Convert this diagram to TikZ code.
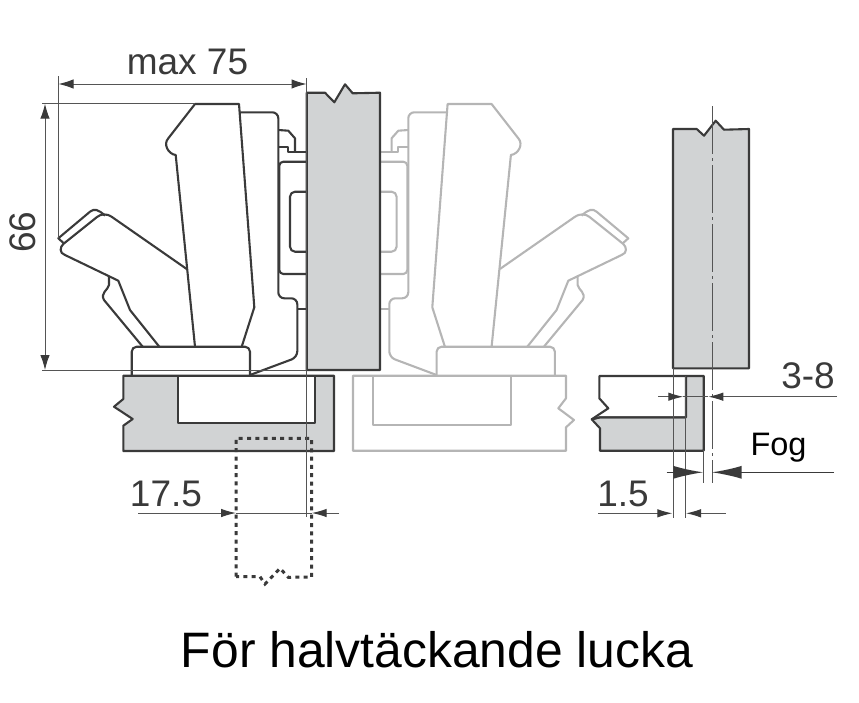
\documentclass[tikz,border=0pt]{standalone}
\usepackage{fontspec}
\setmainfont{Liberation Sans}
\usetikzlibrary{arrows.meta}
\definecolor{panelgray}{HTML}{D1D3D4}
\definecolor{darkline}{HTML}{3A3A3A}
\definecolor{lightline}{HTML}{B5B5B5}
\definecolor{dimline}{HTML}{555555}
\tikzset{
    darkpart/.style={draw=darkline,line width=2.1pt,line join=round},
    lightpart/.style={draw=lightline,line width=2.1pt,line join=round},
    thinline/.style={draw=dimline,line width=1pt},
    dimtext/.style={text=darkline,inner sep=0pt,font=\fontsize{37}{37}\selectfont},
    bothtip/.style={{Latex[length=15pt,width=9.5pt,color=darkline]}-{Latex[length=15pt,width=9.5pt,color=darkline]}},
    smalltip/.style={-{Latex[length=15pt,width=8.5pt,color=darkline]}},
    fogtip/.style={-{Latex[length=30pt,width=13pt,color=darkline]}}
}
% one hinge, drawn with the door on its right
\newcommand{\hingeparts}[1]{
    % arm
    \draw[#1] (195,346.7) -- (175.7,155) .. controls (168,154) and (163,144) .. (168.3,138.3)
        -- (195,104) -- (239,104) -- (254.3,307.3) -- (241.7,346.7);
    % wing
    \draw[#1] (186.7,269) -- (112,217) .. controls (106,213) and (101,214) .. (97,217)
        -- (63.3,244) .. controls (60,247) and (59,253) .. (65,255)
        -- (118.3,280.7) -- (130,310) -- (159.3,346.7);
    \draw[#1] (109,276.3) -- (109,285) .. controls (108,290) and (100,293) .. (104,300) -- (142.7,346.7);
    \draw[#1] (63.5,243) -- (58.3,238.3) -- (90,211.7) .. controls (94,208.5) and (98,209) .. (105,215.7);
    % cup
    \draw[#1,rounded corners=5pt] (131.7,375) -- (131.7,346.7) -- (250,346.7) -- (250,375);
    % mounting plate
    \draw[#1,rounded corners=6pt] (239,112.3) -- (278.3,112.3) -- (278.3,298.3)
        -- (297.3,298.3) -- (297.3,357.3) [sharp corners] -- (250,375);
    \draw[#1] (278.3,130) -- (288.3,130.7) -- (295,138.3) -- (295,151.7);
    \draw[#1] (278.3,147.3) -- (288.3,147.3) -- (288.3,151.7) -- (306.7,151.7);
    \draw[#1,rounded corners=4pt] (306.7,161.7) -- (279.3,161.7) -- (279.3,274) -- (306.7,274);
    \draw[#1,rounded corners=5pt] (306.7,191.7) -- (290,191.7) -- (290,251.7) -- (306.7,251.7);
    \draw[#1] (297.3,309.3) -- (306.7,309.3);
}

\begin{document}
\begin{tikzpicture}[x=1pt,y=-1pt]
    \useasboundingbox (0,0) rectangle (859,702);

    % Light lower panel
    \draw[lightpart] (566,398.3) -- (566,375.7) -- (353,375.7) -- (353,450.7) -- (566,450.7) -- (566,427.3)
        -- (574,420) -- (558.3,408.3) -- cycle;
    \draw[lightpart] (373.3,375.7) -- (373.3,425) -- (511,425) -- (511,375.7);

    % Light hinge
    \begin{scope}[xshift=686.6pt,xscale=-1]
        \hingeparts{lightpart}
    \end{scope}

    % Dark lower panel
    \draw[darkpart,fill=panelgray] (123.3,375.7) -- (334,375.7) -- (334,451) -- (123.3,451) -- (123.3,425.7)
        -- (132.7,419) -- (114,406.7) -- (123.3,399) -- cycle;
    \draw[darkpart,fill=white] (177.7,375.7) -- (177.7,423.3) -- (315,423.3) -- (315,375.7) -- cycle;

    % Dark hinge
    \hingeparts{darkpart}

    % Door
    \draw[darkpart,fill=panelgray] (306.7,92.7) -- (325,92.7) -- (334.3,102.3) -- (345,84.3) -- (352.7,93.3)
        -- (380,92.7) -- (380,370) -- (306.7,370) -- cycle;

    % Drill hole
    \draw[draw=darkline,line width=3pt,dash pattern=on 4pt off 4.3pt] (236,576.7) -- (236,438.3) -- (311.7,438.3) -- (311.7,577)
        -- (288.3,577.3) -- (280,568.3) -- (265,584) -- (260,576.7) -- cycle;

    % Right door
    \draw[darkpart,fill=panelgray] (673,129) -- (696.7,129) -- (704,135.7) -- (715.7,120.7) -- (724,129.7)
        -- (749,129) -- (749,368.3) -- (673,368.3) -- cycle;

    % Right lower panel
    \draw[darkpart,fill=panelgray] (686,417.3) -- (686,376) -- (703.7,376) -- (703.7,450.7) -- (600,450.7)
        -- (600,428.3) -- (591.7,419.3) -- (600,417.3) -- cycle;
    \draw[darkpart] (686,376) -- (599.3,376) -- (599.3,398.3) -- (608.3,408.3) -- (591.7,419.3);
    \draw[darkpart] (591.7,419.3) -- (600,417.3) -- (686,417.3);

    % Coordinates for the measures
    \coordinate (wl) at (58.5,84);
    \coordinate (wr) at (306.5,84);
    \coordinate (ht) at (45,103.7);
    \coordinate (hb) at (45,370);
    \coordinate (sl) at (236,513);
    \coordinate (sr) at (311.7,513);
    \coordinate (gl) at (683.3,396.7);
    \coordinate (gr) at (708.3,396.7);
    \coordinate (fl) at (703.3,472.3);
    \coordinate (fr) at (711.7,472.3);
    \coordinate (el) at (672.3,513.3);
    \coordinate (er) at (686,513.3);

    % Extension lines
    \draw[thinline] (58.5,76) -- (58.5,238);
    \draw[thinline] (306.5,78) -- (306.5,517);
    \draw[thinline] (42,103.7) -- (195,103.7);
    \draw[thinline] (42,370) -- (306.7,370);
    \draw[thinline] (673,368) -- (673,518);
    \draw[thinline] (685.3,376) -- (685.3,518);
    \draw[thinline] (703.7,450) -- (703.7,482.7);
    \draw[thinline,dash pattern=on 48pt off 4pt on 3pt off 4pt] (712.3,106) -- (712.3,483);

    % Measures
    \draw[thinline,bothtip] (wl) -- (wr);
    \draw[thinline,bothtip] (ht) -- (hb);
    \node[dimtext] (maxw) at (187.5,62) {max 75};
    \node[dimtext,rotate=90] (maxh) at (23,232) {66};

    \coordinate (s0) at (138,513);
    \coordinate (s1) at (339,513);
    \draw[thinline,smalltip] (s0) -- (sl);
    \draw[thinline,smalltip] (s1) -- (sr);
    \draw[thinline] (sl) -- (sr);
    \node[dimtext] (drill) at (166,494) {17.5};

    \coordinate (g0) at (658,396.7);
    \coordinate (g1) at (837,396.7);
    \draw[thinline,smalltip] (g0) -- (gl);
    \draw[thinline,smalltip] (g1) -- (gr);
    \draw[thinline] (gl) -- (gr);
    \node[dimtext] (cover) at (808,376) {3-8};

    \coordinate (f0) at (666.7,472.3);
    \coordinate (f1) at (834,472.3);
    \draw[draw=darkline,line width=1.5pt,fogtip] (f0) -- (fl);
    \draw[draw=darkline,line width=1.5pt,fogtip] (f1) -- (fr);
    \node[inner sep=0pt,font=\fontsize{32.5}{33}\selectfont,text=black] (fog) at (778.5,448) {Fog};

    \coordinate (e0) at (598.3,513.3);
    \coordinate (e1) at (725.7,513.3);
    \draw[thinline,smalltip] (e0) -- (el);
    \draw[thinline,smalltip] (e1) -- (er);
    \node[dimtext] (edge) at (623,494) {1.5};

    % Title
    \node[inner sep=0pt,font=\fontsize{49.8}{50}\selectfont,text=black] (title) at (437,650) {För halvtäckande lucka};
\end{tikzpicture}
\end{document}
